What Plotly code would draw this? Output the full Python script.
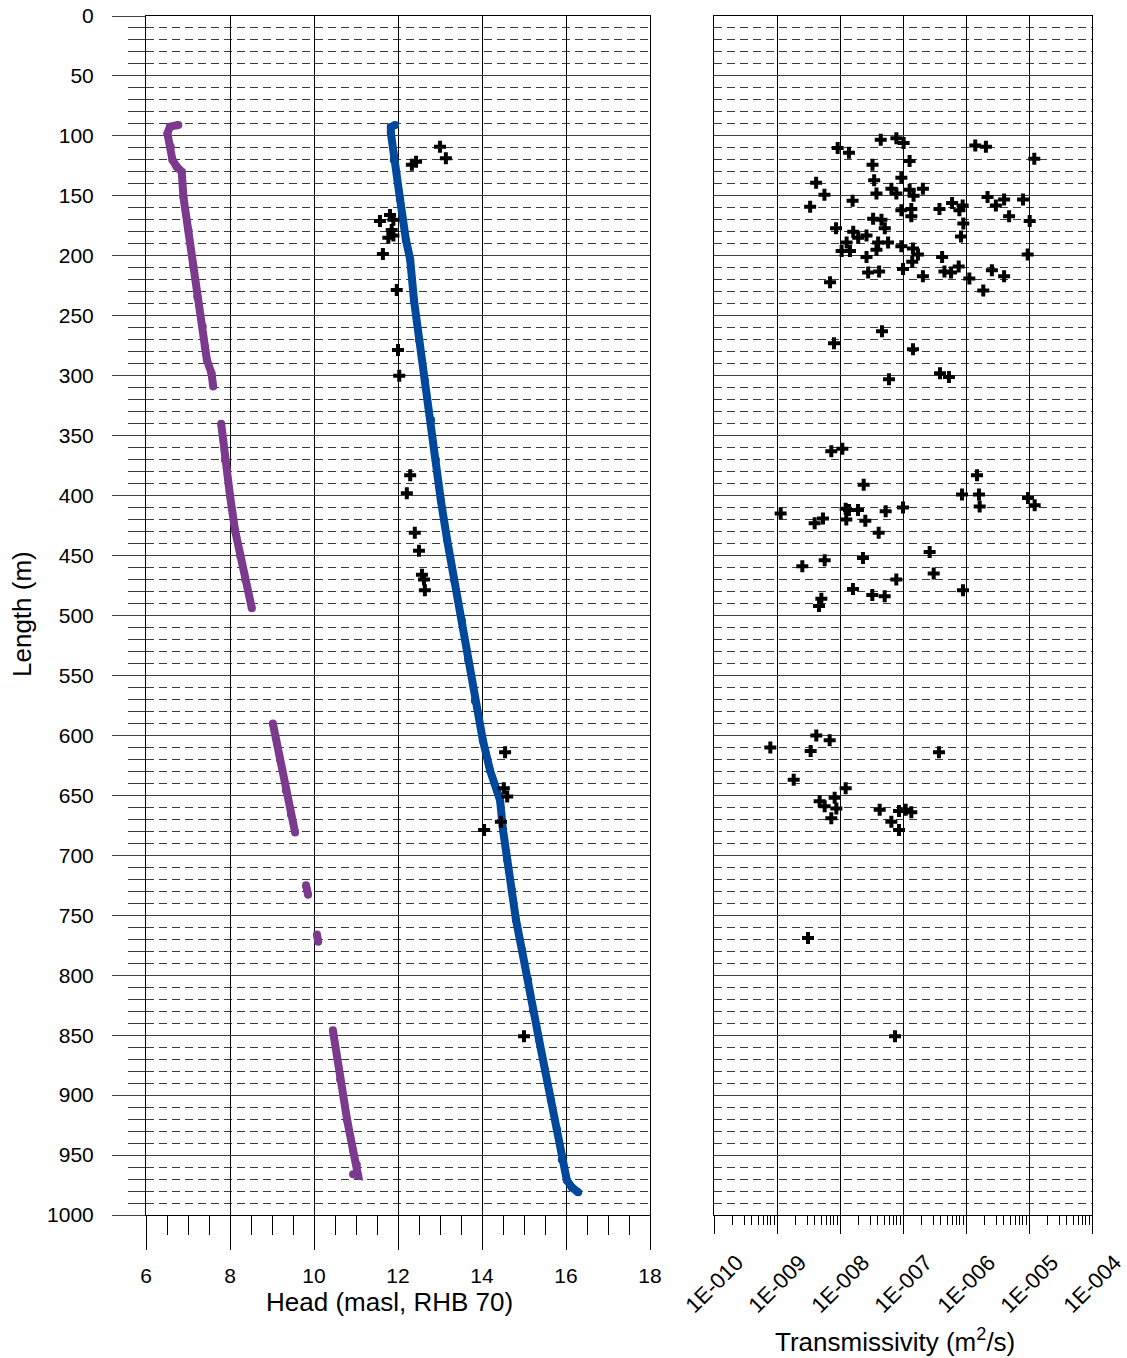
import plotly.graph_objects as go

# ---------------- data ----------------
# Head profile (purple) segments: head (masl) and length (m)
p1_head = [6.77, 6.57, 6.51, 6.59, 6.63, 6.73, 6.85, 6.89, 7.01, 7.13, 7.22, 7.35, 7.40, 7.45, 7.56, 7.60]
p1_len = [90.9, 92.3, 97.9, 109, 120, 125.7, 129.8, 150.7, 178.5, 209, 234, 259, 275.8, 286.9, 298, 309]
p2_head = [7.79, 7.88, 8.00, 8.12, 8.24, 8.36, 8.52]
p2_len = [340, 370, 400, 429, 450, 470, 494]
p3_head = [9.02, 9.19, 9.33, 9.45, 9.55]
p3_len = [590, 620, 646, 666, 681]
p4_head = [9.81, 9.86]
p4_len = [725, 733]
p5_head = [10.07, 10.10]
p5_len = [766, 772]
p6_head = [10.45, 10.62, 10.79, 10.93, 11.02, 11.05, 10.93]
p6_len = [846, 887, 921, 946, 958, 967, 966]

# Head profile (blue)
b_head = [11.93, 11.83, 11.83, 11.90, 12.05, 12.19, 12.29, 12.38, 12.50, 12.64, 12.79, 12.90, 13.02,
          13.17, 13.33, 13.52, 13.67, 13.83, 14.02, 14.19, 14.36, 14.43, 14.50, 14.60, 14.71, 14.81,
          14.95, 15.10, 15.21, 15.36, 15.50, 15.64, 15.79, 15.90, 16.02, 16.14, 16.29]
b_len = [91, 92.6, 97.6, 120, 153, 187, 203, 237, 270, 304, 337, 370, 404,
         437, 470, 504, 537, 571, 604, 629, 646, 654, 679, 704, 729, 754,
         779, 804, 829, 854, 879, 904, 929, 954, 971, 977, 981]

# Head point measurements (crosses)
h_head = [13.00, 13.14, 12.33, 12.43, 11.57, 11.81, 11.89, 11.85, 11.77, 11.89, 11.64, 11.97, 12.00,
          12.03, 12.29, 12.21, 12.40, 12.50, 12.57, 12.62, 12.64, 14.55, 14.52, 14.60, 14.45, 14.05, 15.00]
h_len = [109, 118.7, 124, 121.5, 171, 166, 170, 178.5, 185, 183, 198.5, 228.5, 278.6,
         300, 383, 398, 431, 446, 466, 470, 479, 614, 644, 651, 672, 679, 851]

# Transmissivity (log10 m2/s) and length (m)
t_log = [-7.353, -7.105, -6.99, -8.037, -7.858, -5.853, -5.684, -4.916, -7.484, -6.895, -7.026, -7.458,
         -8.379, -8.247, -7.421, -7.8, -7.184, -7.105, -6.895, -6.832, -6.684, -8.474, -7.026, -6.868,
         -6.868, -6.421, -6.221, -6.053, -6.105, -5.658, -5.526, -5.395, -5.316, -5.095, -4.989, -5.021,
         -6.042, -6.079, -8.063, -7.474, -7.342, -7.289, -7.79, -7.579, -7.711, -7.895, -7.974, -7.842,
         -7.395, -7.237, -7.421, -7.026, -6.842, -6.763, -6.853, -7.579, -7.0, -7.553, -7.379, -6.684,
         -6.379, -6.342, -6.237, -6.116, -5.947, -5.589, -5.395, -5.726, -8.158,
         -7.333, -8.095, -6.841, -7.222, -6.413, -6.27, -8.138, -7.963,
         -7.624, -5.825, -6.063, -5.794, -5.783, -5.016, -4.91, -8.942, -8.402, -8.27, -7.91, -7.857,
         -7.714, -7.9, -7.598, -7.275, -7.0, -7.386, -6.577, -6.513, -8.598, -8.243, -7.635, -7.106,
         -7.794, -7.487, -7.291, -6.048, -8.296, -8.333,
         -9.106, -8.376, -8.164, -8.466, -6.429, -8.735, -7.91, -8.085, -8.323, -8.243, -8.058, -8.138,
         -7.37, -7.063, -6.958, -6.868, -7.185, -7.063, -8.508, -7.127]
t_len = [103.3, 102, 106, 110, 114, 108, 109, 119, 124, 121, 135, 137,
         139, 149, 148, 154, 144, 148, 145, 150, 144, 159, 162, 161,
         167, 161, 156, 158, 162, 151, 158, 153, 167, 153, 171, 199,
         173, 184, 177, 169, 170, 177, 180, 183, 185, 189, 196, 196,
         189, 189, 195, 192, 194, 199, 205, 201, 211, 214, 213, 217,
         201, 213, 214, 209, 219, 212, 217, 229, 222,
         263, 273, 278, 303, 298, 301, 363, 361,
         391, 383, 399, 399, 409, 402, 408, 415, 423, 419, 411, 412,
         412, 420, 421, 413, 410, 431, 447, 465, 459, 454, 452, 470,
         478, 483, 484, 479, 486, 492,
         610, 600, 604, 613, 614, 637, 644, 652, 655, 659, 661, 669,
         662, 663, 662, 664, 672, 679, 769, 851]
t_val = [10 ** v for v in t_log]

t_tickvals = [1e-10, 1e-9, 1e-8, 1e-7, 1e-6, 1e-5, 1e-4]
t_ticktext = ["1E-010", "1E-009", "1E-008", "1E-007", "1E-006", "1E-005", "1E-004"]

# ---------------- figure ----------------
PURPLE = "#7B3A8E"
BLUE = "#00489C"
FONT = "Liberation Sans, Arial, sans-serif"

fig = go.Figure()

for hx, hy in [(p1_head, p1_len), (p2_head, p2_len), (p3_head, p3_len),
               (p4_head, p4_len), (p5_head, p5_len), (p6_head, p6_len)]:
    fig.add_trace(go.Scatter(x=hx, y=hy, mode="lines+markers",
                             line=dict(color=PURPLE, width=8),
                             marker=dict(color=PURPLE, size=8),
                             xaxis="x", yaxis="y", showlegend=False, hoverinfo="skip"))

fig.add_trace(go.Scatter(x=b_head, y=b_len, mode="lines+markers",
                         line=dict(color=BLUE, width=8),
                         marker=dict(color=BLUE, size=8),
                         xaxis="x", yaxis="y", showlegend=False, hoverinfo="skip"))

fig.add_trace(go.Scatter(x=h_head, y=h_len, mode="markers",
                         marker=dict(symbol="cross", size=10, color="black", line=dict(width=0)),
                         xaxis="x", yaxis="y", showlegend=False))

fig.add_trace(go.Scatter(x=t_val, y=t_len, mode="markers",
                         marker=dict(symbol="cross", size=10, color="black", line=dict(width=0)),
                         xaxis="x2", yaxis="y2", showlegend=False))

W, H = 1127, 1358
L, R, T, B = 146, 1127 - 1092, 16, 1358 - 1215
pw = W - L - R
ph = H - T - B
d1 = [0, (650 - L) / pw]
d2 = [(714 - L) / pw, 1]

minor_y = dict(dtick=10, tick0=0, showgrid=True, gridcolor="#3a3a3a", gridwidth=1,
               griddash="8px,5px")

fig.update_layout(
    width=W, height=H,
    margin=dict(l=L, r=R, t=T, b=B, autoexpand=False),
    paper_bgcolor="white", plot_bgcolor="white",
    font=dict(family=FONT, size=21, color="black"),
    xaxis=dict(domain=d1, range=[6, 18], dtick=2, tick0=6, automargin=False,
               showgrid=True, gridcolor="black", gridwidth=1,
               showline=True, linecolor="black", linewidth=1, mirror=True,
               ticks="outside", ticklen=34, tickcolor="black",
               minor=dict(dtick=0.5, ticks="outside", ticklen=19, tickcolor="black", showgrid=False),
               zeroline=False, anchor="y", ticklabelstandoff=8),
    yaxis=dict(domain=[0, 1], range=[1000, 0], dtick=50, tick0=0, automargin=False,
               showgrid=True, gridcolor="#404040", gridwidth=1,
               showline=True, linecolor="black", linewidth=1, mirror=True,
               ticks="outside", ticklen=33, tickcolor="#404040",
               minor=dict(ticks="outside", ticklen=17, tickcolor="#3a3a3a", **minor_y),
               zeroline=False, anchor="x", ticklabelstandoff=14),
    xaxis2=dict(domain=d2, type="log", range=[-10, -4], automargin=False,
                tickvals=t_tickvals, ticktext=t_ticktext, tickangle=-45,
                tickfont=dict(size=22), ticklabelshift=23, ticklabelstandoff=7,
                ticklabeloverflow="allow",
                showgrid=True, gridcolor="black", gridwidth=1,
                showline=True, linecolor="black", linewidth=1, mirror=True,
                ticks="outside", ticklen=18, tickcolor="black",
                minor=dict(dtick="D1", ticks="outside", ticklen=9, tickcolor="black", showgrid=False),
                zeroline=False, anchor="y2"),
    yaxis2=dict(domain=[0, 1], range=[1000, 0], dtick=50, tick0=0, automargin=False,
                showgrid=True, gridcolor="#404040", gridwidth=1,
                showline=True, linecolor="black", linewidth=1, mirror=True,
                ticks="", showticklabels=False,
                minor=minor_y,
                zeroline=False, anchor="x2"),
    annotations=[
        dict(text="Head (masl, RHB 70)", xref="paper", yref="paper",
             x=(389 - L) / pw, y=-(1302 - 1215) / ph, xanchor="center", yanchor="middle",
             showarrow=False, font=dict(size=26)),
        dict(text="Transmissivity (m<sup>2</sup>/s)", xref="paper", yref="paper",
             x=(895 - L) / pw, y=-(1340 - 1215) / ph, xanchor="center", yanchor="middle",
             showarrow=False, font=dict(size=26)),
        dict(text="Length (m)", xref="paper", yref="paper",
             x=(22 - L) / pw, y=(1215 - 614) / ph, xanchor="center", yanchor="middle",
             textangle=-90, showarrow=False, font=dict(size=26)),
    ],
)

fig.write_html("out.html")
